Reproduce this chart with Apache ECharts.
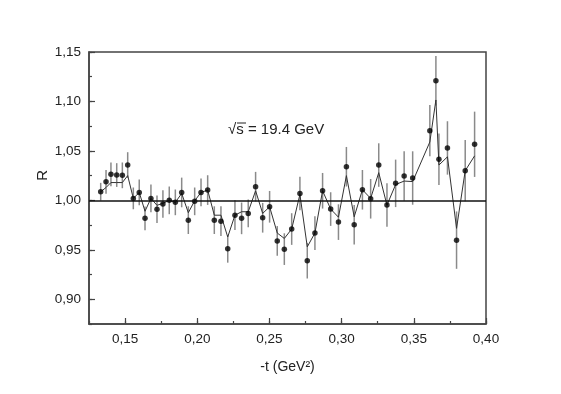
<!DOCTYPE html>
<html>
<head>
<meta charset="utf-8">
<script src="https://cdn.jsdelivr.net/npm/echarts@6.0.0/dist/echarts.min.js"></script>
<style>
  html, body { margin: 0; padding: 0; background: #fff; }
  #chart { width: 561px; height: 394px; }
</style>
</head>
<body>
<div id="chart"></div>
<script>
// -t (GeV^2)
const tValues = [0.1331, 0.1368, 0.1402, 0.1442, 0.1481, 0.1518, 0.1557, 0.1598, 0.1638, 0.1679,
  0.1721, 0.1762, 0.1806, 0.1848, 0.1892, 0.1938, 0.1982, 0.2026, 0.2072, 0.2118,
  0.2164, 0.2211, 0.2261, 0.2307, 0.2353, 0.2404, 0.2453, 0.2501, 0.2554, 0.2603,
  0.2654, 0.2711, 0.2762, 0.2815, 0.2868, 0.2924, 0.2978, 0.3033, 0.3087, 0.3144,
  0.3201, 0.3257, 0.3314, 0.3374, 0.3433, 0.3492, 0.3611, 0.3653, 0.3674, 0.3733,
  0.3796, 0.3856, 0.3921];
// measured R
const rValues = [1.0087, 1.0188, 1.0263, 1.0256, 1.0253, 1.0357, 1.002, 1.008, 0.9818, 1.002,
  0.991, 0.9963, 1.000, 0.998, 1.008, 0.980, 0.999, 1.008, 1.0104, 0.980,
  0.979, 0.951, 0.985, 0.9818, 0.9868, 1.0138, 0.9824, 0.9935, 0.959, 0.9507,
  0.971, 1.007, 0.939, 0.9669, 1.0097, 0.9912, 0.978, 1.034, 0.9753, 1.0107,
  1.0016, 1.0357, 0.9952, 1.0172, 1.0246, 1.0226, 1.0705, 1.121, 1.0416, 1.053,
  0.9598, 1.030, 1.0567];
// error (half length of bar)
const rErrors = [0.009, 0.012, 0.012, 0.012, 0.013, 0.013, 0.011, 0.013, 0.012, 0.014,
  0.014, 0.014, 0.014, 0.013, 0.015, 0.014, 0.014, 0.014, 0.015, 0.014,
  0.015, 0.014, 0.015, 0.016, 0.014, 0.015, 0.015, 0.016, 0.015, 0.016,
  0.016, 0.017, 0.018, 0.017, 0.018, 0.017, 0.018, 0.020, 0.020, 0.020,
  0.020, 0.022, 0.022, 0.024, 0.025, 0.027, 0.026, 0.025, 0.026, 0.027,
  0.029, 0.031, 0.033];
// curve drawn through the points
const curveValues = [1.0087, 1.013, 1.018, 1.018, 1.018, 1.025, 1.002, 1.008, 0.989, 1.002,
  0.995, 0.997, 1.000, 0.998, 1.007, 0.9875, 0.9996, 1.008, 1.0104, 0.985,
  0.985, 0.963, 0.985, 0.9885, 0.9885, 1.0097, 0.9868, 0.9935, 0.967, 0.9615,
  0.971, 1.006, 0.953, 0.967, 1.0097, 0.9912, 0.983, 1.025, 0.9834, 1.0107,
  1.002, 1.028, 0.9952, 1.016, 1.0195, 1.019, 1.059, 1.1015, 1.0357, 1.044,
  0.9717, 1.030, 1.045];

const xRange = [0.125, 0.40];
const yRange = [0.875, 1.15];
const refLevel = 1.0;

const fmt = (v) => v.toFixed(2).replace('.', ',');
const font = 'Liberation Sans, Arial, sans-serif';

const chart = echarts.init(document.getElementById('chart'), null, {renderer: 'canvas'});

const option = {
  animation: false,
  backgroundColor: '#fff',
  grid: {
    left: 89, right: 75, top: 52, bottom: 70,
    show: true, borderColor: '#444', borderWidth: 1.5, backgroundColor: 'transparent'
  },
  xAxis: [
    {
      type: 'value', min: xRange[0], max: xRange[1], splitNumber: 5,
      splitLine: {show: false},
      axisLine: {show: true, lineStyle: {color: '#444', width: 1.5}},
      axisTick: {show: true, inside: true, length: 6, lineStyle: {color: '#444', width: 1.2}},
      axisLabel: {showMinLabel: false, formatter: fmt, color: '#222', fontSize: 13.5, fontFamily: font, margin: 8},
      name: '-t (GeV²)', nameLocation: 'middle', nameGap: 36,
      nameTextStyle: {color: '#222', fontSize: 14, fontFamily: font}
    },
    {
      // minor ticks
      type: 'value', min: xRange[0], max: xRange[1], interval: 0.025, position: 'bottom',
      splitLine: {show: false}, axisLine: {show: false}, axisLabel: {show: false},
      axisTick: {show: true, inside: true, length: 3, lineStyle: {color: '#444', width: 1.2}}
    }
  ],
  yAxis: [
    {
      type: 'value', min: yRange[0], max: yRange[1], splitNumber: 5,
      splitLine: {show: false},
      axisLine: {show: true, lineStyle: {color: '#444', width: 1.5}},
      axisTick: {show: true, inside: true, length: 6, lineStyle: {color: '#444', width: 1.2}},
      axisLabel: {showMinLabel: false, formatter: fmt, color: '#222', fontSize: 13.5, fontFamily: font, margin: 8}
    },
    {
      type: 'value', min: yRange[0], max: yRange[1], interval: 0.025, position: 'left',
      splitLine: {show: false}, axisLine: {show: false}, axisLabel: {show: false},
      axisTick: {show: true, inside: true, length: 3, lineStyle: {color: '#444', width: 1.2}}
    }
  ],
  graphic: [
    {
      type: 'text', left: 35, top: 170, rotation: Math.PI / 2,
      style: {text: 'R', fontSize: 15, fontFamily: font, fill: '#222', textAlign: 'center', textVerticalAlign: 'middle'}
    },
    {
      type: 'text', left: 228, top: 122,
      style: {text: '√s = 19.4 GeV', fontSize: 15, fontFamily: font, fill: '#222'}
    },
    {
      type: 'line', shape: {x1: 237, y1: 123, x2: 246, y2: 123},
      style: {stroke: '#222', lineWidth: 1}
    }
  ],
  series: [
    {
      // error bars
      type: 'custom',
      data: tValues.map((t, i) => [t, rValues[i] - rErrors[i], rValues[i] + rErrors[i]]),
      encode: {x: 0, y: [1, 2]},
      renderItem: (params, api) => {
        const p1 = api.coord([api.value(0), api.value(1)]);
        const p2 = api.coord([api.value(0), api.value(2)]);
        return {
          type: 'line',
          shape: {x1: p1[0], y1: p1[1], x2: p2[0], y2: p2[1]},
          style: {stroke: '#8a8a8a', lineWidth: 1.5}
        };
      },
      z: 1
    },
    {
      type: 'line',
      data: tValues.map((t, i) => [t, curveValues[i]]),
      showSymbol: false,
      lineStyle: {color: '#333', width: 1},
      markLine: {
        silent: true, symbol: 'none', label: {show: false},
        lineStyle: {color: '#111', width: 1.5, type: 'solid'},
        data: [{yAxis: refLevel}]
      },
      z: 2
    },
    {
      type: 'scatter',
      data: tValues.map((t, i) => [t, rValues[i]]),
      symbolSize: 5.5,
      itemStyle: {color: '#000'},
      z: 3
    }
  ]
};
chart.setOption(option);
</script>
</body>
</html>
